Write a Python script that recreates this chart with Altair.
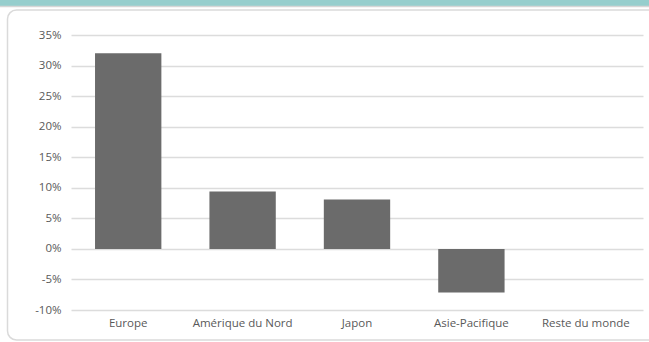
import altair as alt
import pandas as pd

# Regional values (share, as fractions)
regions = ["Europe", "Amérique du Nord", "Japon", "Asie-Pacifique", "Reste du monde"]
values = [0.320, 0.094, 0.081, -0.0715, 0.0]
y_ticks = [-0.10, -0.05, 0.0, 0.05, 0.10, 0.15, 0.20, 0.25, 0.30, 0.35]

df = pd.DataFrame({"region": regions, "value": values})
one = pd.DataFrame({"k": [0]})

FONT = "Open Sans"
TEXT = "#595959"

W, H = 572, 275

# Header band and rounded frame around the plot
band = alt.Chart(one).mark_rect(color="#96cecd").encode(
    x=alt.value(-71), x2=alt.value(W + 6), y=alt.value(-35), y2=alt.value(-29)
)
band_line = alt.Chart(one).mark_rule(color="#d6d6d6", strokeWidth=1.5).encode(
    x=alt.value(-71), x2=alt.value(W + 6), y=alt.value(-28.5)
)
frame = alt.Chart(one).mark_rect(
    fillOpacity=0, stroke="#dadada", strokeWidth=1.5, cornerRadius=9
).encode(
    x=alt.value(-63.5), x2=alt.value(W + 30), y=alt.value(-25), y2=alt.value(H + 30)
)

bars = alt.Chart(df).mark_bar(color="#6b6b6b").encode(
    x=alt.X(
        "region:N",
        sort=regions,
        scale=alt.Scale(paddingInner=0.42, paddingOuter=0.21),
        axis=alt.Axis(
            title=None, labelAngle=0, domain=False, ticks=False, grid=False,
            labelPadding=7, labelFont=FONT, labelFontSize=11.5, labelColor=TEXT,
        ),
    ),
    y=alt.Y(
        "value:Q",
        scale=alt.Scale(domain=[-0.10, 0.35], nice=False, zero=False),
        axis=alt.Axis(
            title=None, values=y_ticks, domain=False, ticks=False,
            gridColor="#dcdcdc", gridWidth=1.5,
            labelPadding=10, labelFont=FONT, labelFontSize=11.5, labelColor=TEXT,
            labelExpr="(datum.value < -0.0001 ? '-' : '') + format(abs(datum.value) * 100, '.0f') + '%'",
        ),
    ),
)

chart = (
    alt.layer(band, band_line, frame, bars)
    .properties(
        width=W, height=H,
        autosize=alt.AutoSizeParams(type="none"),
        padding={"left": 71, "top": 35, "right": 6, "bottom": 32},
        background="white",
    )
    .configure_view(stroke=None)
)

chart.save("out.html", embed_options={"renderer": "svg", "actions": False})
